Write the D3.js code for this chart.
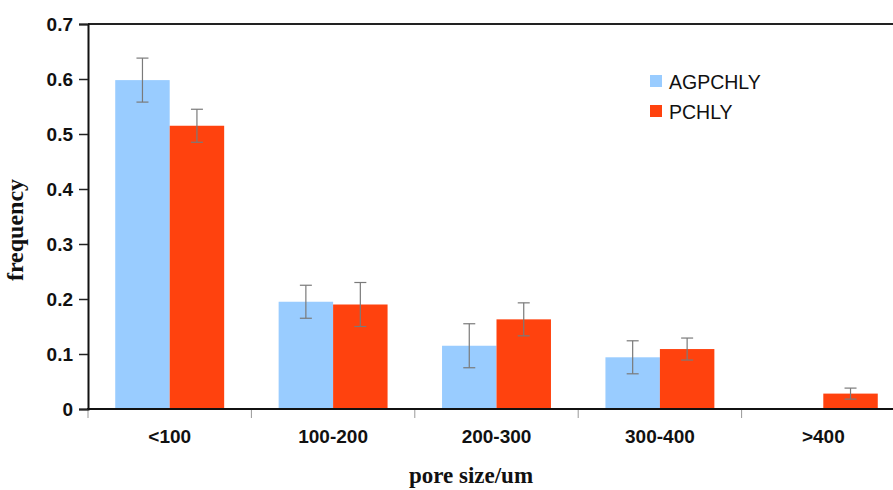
<!DOCTYPE html>
<html>
<head>
<meta charset="utf-8">
<script src="https://cdn.jsdelivr.net/npm/d3@7"></script>
<style>
  body { margin: 0; background: #fff; }
  svg { display: block; }
</style>
</head>
<body>
<div id="chart"></div>
<script>
var width = 893;
var height = 490;

// values
var categories = ["<100", "100-200", "200-300", "300-400", ">400"];
var seriesNames = ["AGPCHLY", "PCHLY"];
var agpchly = [0.598, 0.195, 0.115, 0.094, 0];
var agpchlyErr = [0.04, 0.03, 0.04, 0.03, 0];
var pchly = [0.515, 0.19, 0.163, 0.109, 0.028];
var pchlyErr = [0.03, 0.04, 0.03, 0.02, 0.01];
var yTicks = [0, 0.1, 0.2, 0.3, 0.4, 0.5, 0.6, 0.7];

var colors = ["#99ccff", "#ff420e"];

var svg = d3.select("#chart")
  .append("svg")
  .attr("width", width)
  .attr("height", height);

var xScale = d3.scaleBand()
  .domain(categories)
  .range([88, 905])
  .paddingInner(1 / 3)
  .paddingOuter(1 / 6);

var xInner = d3.scaleBand()
  .domain(seriesNames)
  .range([0, xScale.bandwidth()]);

var yScale = d3.scaleLinear()
  .domain([0, 0.7])
  .range([409, 24]);

// rows for bars
var rows = [];
categories.forEach(function(c, i) {
  rows.push({ cat: c, series: "AGPCHLY", value: agpchly[i], err: agpchlyErr[i] });
  rows.push({ cat: c, series: "PCHLY", value: pchly[i], err: pchlyErr[i] });
});
var shown = rows.filter(function(d) { return d.value > 0; });

// top frame line
svg.append("line")
  .attr("x1", 88).attr("x2", width)
  .attr("y1", yScale(0.7)).attr("y2", yScale(0.7))
  .attr("stroke", "#222").attr("stroke-width", 2);

// bars
svg.append("g")
  .selectAll("rect")
  .data(shown)
  .enter()
  .append("rect")
  .attr("x", function(d) { return xScale(d.cat) + xInner(d.series); })
  .attr("y", function(d) { return yScale(d.value); })
  .attr("width", xInner.bandwidth())
  .attr("height", function(d) { return yScale(0) - yScale(d.value); })
  .attr("fill", function(d) { return colors[seriesNames.indexOf(d.series)]; });

// error bars
var errG = svg.append("g")
  .attr("stroke", "#7a7a7a")
  .attr("stroke-width", 1.2)
  .selectAll("g")
  .data(shown)
  .enter()
  .append("g")
  .attr("transform", function(d) {
    return "translate(" + (xScale(d.cat) + xInner(d.series) + xInner.bandwidth() / 2) + ",0)";
  });

errG.append("line")
  .attr("x1", 0).attr("x2", 0)
  .attr("y1", function(d) { return yScale(d.value + d.err); })
  .attr("y2", function(d) { return yScale(d.value - d.err); });
errG.append("line")
  .attr("x1", -6).attr("x2", 6)
  .attr("y1", function(d) { return yScale(d.value + d.err); })
  .attr("y2", function(d) { return yScale(d.value + d.err); });
errG.append("line")
  .attr("x1", -6).attr("x2", 6)
  .attr("y1", function(d) { return yScale(d.value - d.err); })
  .attr("y2", function(d) { return yScale(d.value - d.err); });

// x axis
var axisx = d3.axisBottom(xScale).tickSize(0).tickPadding(0);
var gx = svg.append("g")
  .attr("transform", "translate(0," + yScale(0) + ")")
  .call(axisx);
gx.select(".domain").remove();
gx.selectAll("text")
  .attr("y", 34)
  .attr("dy", 0)
  .attr("font-family", "Liberation Sans, Arial, sans-serif")
  .attr("font-size", "19px")
  .attr("font-weight", "bold")
  .attr("fill", "#111");

var boundaries = categories.map(function(c) {
  return xScale(c) - (xScale.step() - xScale.bandwidth()) / 2;
});
boundaries.push(boundaries[boundaries.length - 1] + xScale.step());
gx.selectAll(".sep")
  .data(boundaries.filter(function(b) { return b < width; }))
  .enter()
  .append("line")
  .attr("class", "sep")
  .attr("x1", function(d) { return d; })
  .attr("x2", function(d) { return d; })
  .attr("y1", 1).attr("y2", 9)
  .attr("stroke", "#999")
  .attr("stroke-width", 1);

svg.append("line")
  .attr("x1", 87).attr("x2", width)
  .attr("y1", yScale(0)).attr("y2", yScale(0))
  .attr("stroke", "#111").attr("stroke-width", 2.2);

// y axis
var axisy = d3.axisLeft(yScale)
  .tickValues(yTicks)
  .tickSize(9)
  .tickPadding(6)
  .tickFormat(function(d) { return d === 0 ? "0" : d3.format(".1f")(d); });

var gy = svg.append("g")
  .attr("transform", "translate(88,0)")
  .call(axisy);
gy.select(".domain")
  .attr("stroke", "#111")
  .attr("stroke-width", 2);
gy.selectAll(".tick line")
  .attr("stroke", "#222")
  .attr("stroke-width", 1.5);
gy.selectAll(".tick text")
  .attr("font-family", "Liberation Sans, Arial, sans-serif")
  .attr("font-size", "19px")
  .attr("font-weight", "bold")
  .attr("fill", "#111");

// axis titles
svg.append("text")
  .attr("x", 471)
  .attr("y", 483)
  .attr("text-anchor", "middle")
  .attr("font-family", "Liberation Serif, Times New Roman, serif")
  .attr("font-weight", "bold")
  .attr("font-size", "23px")
  .attr("fill", "#111")
  .text("pore size/um");

svg.append("text")
  .attr("transform", "translate(23,230) rotate(-90)")
  .attr("text-anchor", "middle")
  .attr("font-family", "Liberation Serif, Times New Roman, serif")
  .attr("font-weight", "bold")
  .attr("font-size", "24px")
  .attr("fill", "#111")
  .text("frequency");

// legend
var legend = svg.append("g")
  .selectAll("g")
  .data(seriesNames)
  .enter()
  .append("g")
  .attr("transform", function(d, i) { return "translate(650," + (75 + i * 30) + ")"; });

legend.append("rect")
  .attr("width", 12)
  .attr("height", 12)
  .attr("fill", function(d, i) { return colors[i]; });

legend.append("text")
  .attr("x", 19)
  .attr("y", 13.5)
  .attr("font-family", "Liberation Sans, Arial, sans-serif")
  .attr("font-size", "19.5px")
  .attr("fill", "#111")
  .text(function(d) { return d; });
</script>
</body>
</html>
